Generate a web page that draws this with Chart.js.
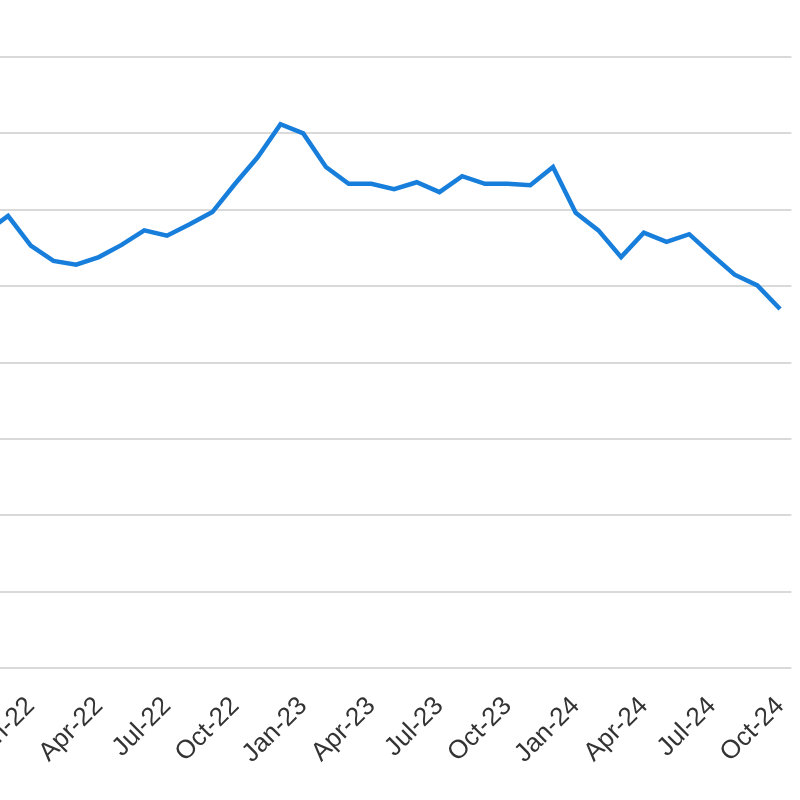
<!DOCTYPE html>
<html>
<head>
<meta charset="utf-8">
<script src="https://cdn.jsdelivr.net/npm/chart.js@4"></script>
<style>
  html, body { margin: 0; padding: 0; background: #fff; overflow: hidden; }
  #wrap { position: absolute; left: -26px; top: 0; width: 826px; height: 800px; }
</style>
</head>
<body>
<div id="wrap"><canvas id="chart"></canvas></div>
<script>
// monthly series, Nov-21 .. Oct-24 (left part of the original is cut off)
const months = [
  'Nov-21', 'Dec-21',
  'Jan-22', 'Feb-22', 'Mar-22', 'Apr-22', 'May-22', 'Jun-22',
  'Jul-22', 'Aug-22', 'Sep-22', 'Oct-22', 'Nov-22', 'Dec-22',
  'Jan-23', 'Feb-23', 'Mar-23', 'Apr-23', 'May-23', 'Jun-23',
  'Jul-23', 'Aug-23', 'Sep-23', 'Oct-23', 'Nov-23', 'Dec-23',
  'Jan-24', 'Feb-24', 'Mar-24', 'Apr-24', 'May-24', 'Jun-24',
  'Jul-24', 'Aug-24', 'Sep-24', 'Oct-24'
];
const values = [
  5.70, 5.92,
  5.53, 5.33, 5.28, 5.38, 5.54, 5.73,
  5.66, 5.81, 5.97, 6.34, 6.69, 7.12,
  7.00, 6.56, 6.34, 6.34, 6.27, 6.36,
  6.23, 6.44, 6.34, 6.34, 6.32, 6.56,
  5.96, 5.73, 5.38, 5.70, 5.58, 5.68,
  5.41, 5.15, 5.01, 4.70
];
const shownMonths = ['Jan', 'Apr', 'Jul', 'Oct'];
const yMin = 0, yMax = 8, yStep = 1;

const ctx = document.getElementById('chart').getContext('2d');

const chart = new Chart(ctx, {
  type: 'line',
  data: {
    labels: months,
    datasets: [{
      data: values,
      borderColor: '#177fdb',
      borderWidth: 4.5,
      pointRadius: 0,
      fill: false,
      tension: 0
    }]
  },
  options: {
    responsive: true,
    maintainAspectRatio: false,
    animation: false,
    layout: { padding: { top: 57, left: 0, right: 8.6, bottom: 0 } },
    plugins: { legend: { display: false }, tooltip: { enabled: false } },
    scales: {
      x: {
        offset: true,
        grid: { display: false, drawTicks: false },
        border: { display: false },
        afterFit: (axis) => {
          axis.height = 132;
          axis.paddingLeft = 0;
          axis.paddingRight = 0;
        },
        ticks: {
          autoSkip: false,
          minRotation: 45,
          maxRotation: 45,
          padding: 23,
          color: '#333333',
          font: { family: 'Liberation Sans, Arial, sans-serif', size: 26 },
          callback: function (val) {
            const lab = this.getLabelForValue(val);
            return shownMonths.includes(lab.slice(0, 3)) ? lab : '';
          }
        }
      },
      y: {
        min: yMin,
        max: yMax,
        afterFit: (axis) => { axis.width = 0; },
        grid: { color: '#d9d9d9', lineWidth: 2, drawTicks: false },
        border: { display: false },
        ticks: { display: false, stepSize: yStep }
      }
    }
  }
});
</script>
</body>
</html>
